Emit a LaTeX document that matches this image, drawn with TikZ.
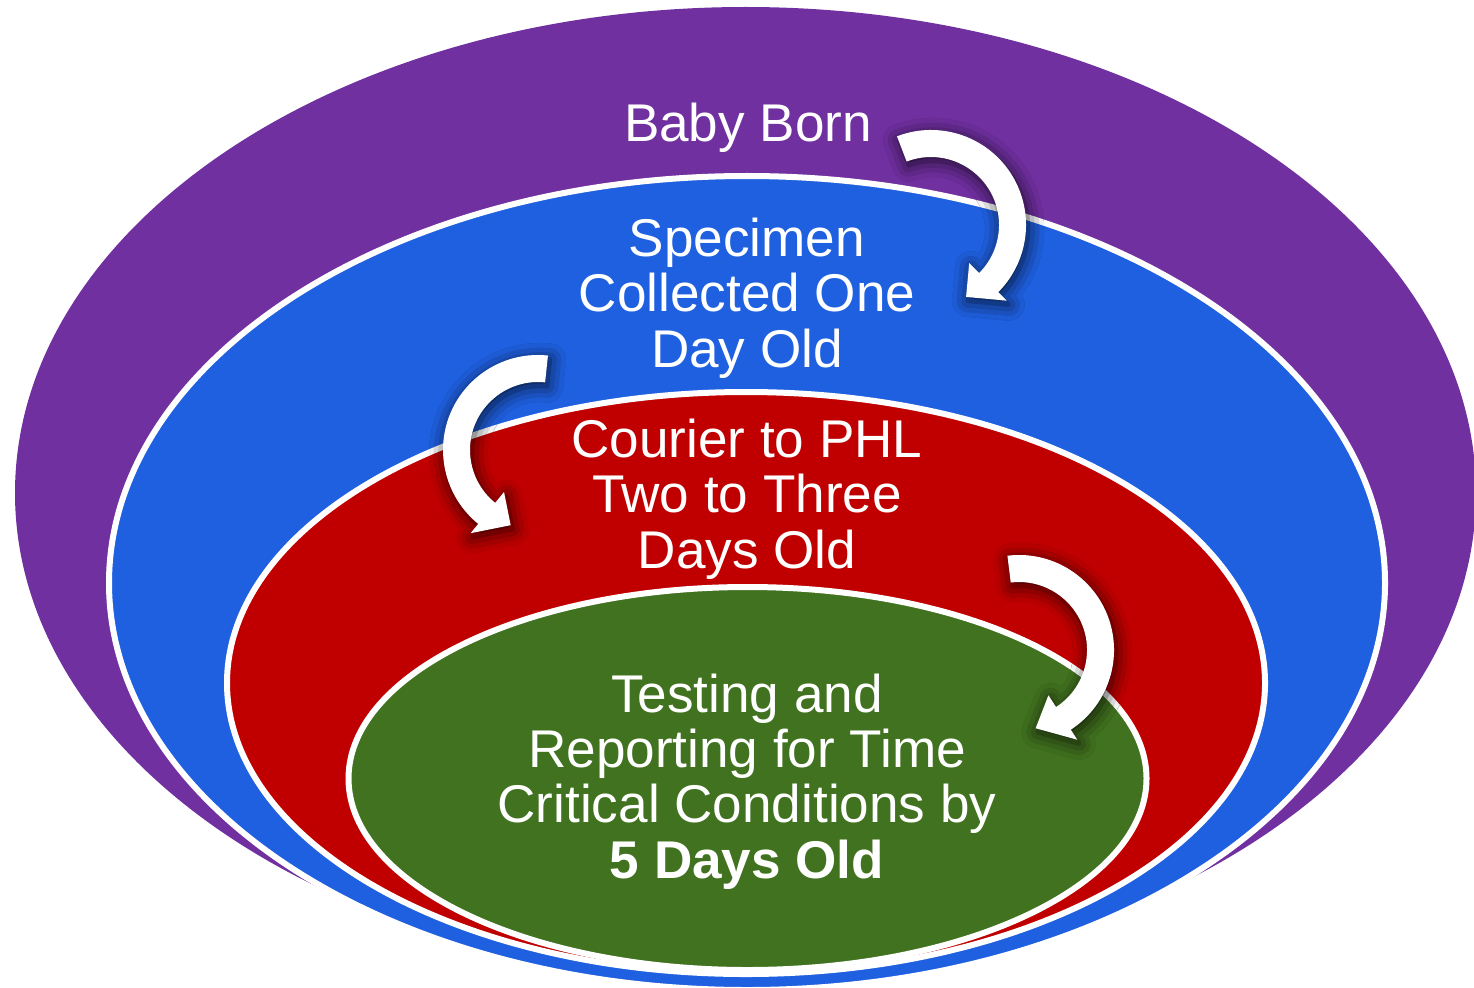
\documentclass[tikz,border=0pt]{standalone}
\usepackage{fontspec}
\setmainfont{Liberation Sans}
\usetikzlibrary{shadows.blur}

\definecolor{bornpurple}{HTML}{7030A0}
\definecolor{specimenblue}{HTML}{1F60E0}
\definecolor{courierred}{HTML}{C00000}
\definecolor{testinggreen}{HTML}{41721F}

% #1 centre, #2 tail angle, #3 head angle, #4 tip angle
\newcommand{\turnarrow}[4]{%
  \begin{scope}[shift={#1}]
    \fill[turnshape] (#2:95) arc[start angle=#2, end angle=#3, radius=95]
      -- (#3:107) -- (#4:80) -- (#3:54) -- (#3:68)
      arc[start angle=#3, end angle=#2, radius=68] -- cycle;
  \end{scope}}

\begin{document}
\begin{tikzpicture}
[x=0.01cm,y=0.01cm,%
  ring/.style={draw=white,line width=0.06cm},%
  stagetext/.style={text=white,align=center,inner sep=0pt,anchor=base,%
    font=\fontsize{15.1}{15.65}\selectfont},%
  turnshape/.style={white,blur shadow={shadow xshift=0.02cm,shadow yshift=-0.04cm,%
    shadow blur radius=0.16cm,shadow opacity=80}}]
\clip (0,0) rectangle (1474,987);
\fill[bornpurple] (745.5,494) ellipse [x radius=730.5,y radius=486];
\filldraw[ring,fill=specimenblue] (747,404) ellipse [x radius=638,y radius=407];
\filldraw[ring,fill=courierred] (746,304) ellipse [x radius=519,y radius=291];
\filldraw[ring,fill=testinggreen] (747.5,208.5) ellipse [x radius=399,y radius=191.5];

\node[stagetext] (born) at (748,845) {Baby Born};
\node[stagetext] (specimen) at (747,620) {Specimen\\Collected One\\Day Old};
\node[stagetext] (courier) at (747,419) {Courier to PHL\\Two to Three\\Days Old};
\node[stagetext] (testing) at (747,109)
  {Testing and\\Reporting for Time\\Critical Conditions by\\\textbf{5 Days Old}};

\turnarrow{(931,762)}{111}{-45}{-64}
\turnarrow{(538,537)}{84}{231}{250}
\turnarrow{(1019,337)}{97}{-57}{-78}
\end{tikzpicture}
\end{document}
